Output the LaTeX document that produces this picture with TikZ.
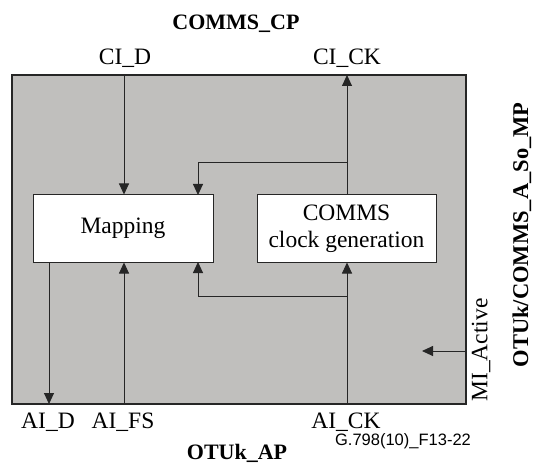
\documentclass[tikz,border=0pt]{standalone}
\usepackage{fontspec}
\setmainfont{Liberation Serif}
\newfontfamily\labsans{Liberation Sans}
\usetikzlibrary{arrows.meta}
\definecolor{panel}{RGB}{192,191,189}
\tikzset{
  wire/.style={line width=0.9pt, draw=black!85},
  tip/.style={-{Triangle[length=11pt,width=10pt]}},
  box/.style={draw=black!85, line width=1pt, fill=white, minimum width=#1, minimum height=67pt, inner sep=0pt, align=center, font=\fontsize{23.5}{27}\selectfont},
  lab/.style={inner sep=0pt, font=\fontsize{23.5}{27}\selectfont},
  ttl/.style={inner sep=0pt, font=\fontsize{22}{26}\selectfont\bfseries},
}
\begin{document}
\begin{tikzpicture}[x=1pt,y=-1pt]
\useasboundingbox (0,0) rectangle (535,465);
\node[draw=black!85, line width=1.2pt, fill=panel, minimum width=454pt, minimum height=329pt, inner sep=0pt] (outer) at (239,239.5) {};
\node[box=180pt] (map) at (123,228.5) {Mapping};
\node[box=179pt] (clk) at (346.5,228.5) {COMMS\\clock generation};
% free ends on the border
\coordinate (ciD) at (124,75);
\coordinate (ciCK) at (347,75);
\coordinate (aiD) at (49,404);
\coordinate (aiFS) at (124,404);
\coordinate (aiCK) at (347,404);
\coordinate (miA) at (466,351);
\coordinate (miEnd) at (422,351);
\coordinate (fbTop) at (347,162);
\coordinate (fbBot) at (347,296);
% connectors
\draw[wire,tip] (ciD) -- (ciD |- map.north);
\draw[wire,tip] (clk.north -| ciCK) -- (ciCK);
\draw[wire,tip] (fbTop) -| (198,195);
\draw[wire,tip] (aiFS) -- (aiFS |- map.south);
\draw[wire,tip] (aiCK) -- (aiCK |- clk.south);
\draw[wire,tip] (fbBot) -| (198,262);
\draw[wire,tip] (aiD |- map.south) -- (aiD);
\draw[wire,tip] (miA) -- (miEnd);
% labels
\node[ttl] (tcp) at (236,24) {COMMS\_CP};
\node[lab] (lcid) at (125,58) {CI\_D};
\node[lab] (lcick) at (347,58) {CI\_CK};
\node[lab] (laid) at (48,422) {AI\_D};
\node[lab] (laifs) at (123,422) {AI\_FS};
\node[lab] (laick) at (346,422) {AI\_CK};
\node[ttl] (tap) at (237,453) {OTUk\_AP};
\node[inner sep=0pt, font=\fontsize{16.5}{19}\labsans] (fig) at (403,441) {G.798(10)\_F13-22};
\node[lab, rotate=90] (lmi) at (481,350) {MI\_Active};
\node[ttl, rotate=90, font=\fontsize{22.5}{26}\selectfont\bfseries] (tmp) at (522,235) {OTUk/COMMS\_A\_So\_MP};
\end{tikzpicture}
\end{document}
